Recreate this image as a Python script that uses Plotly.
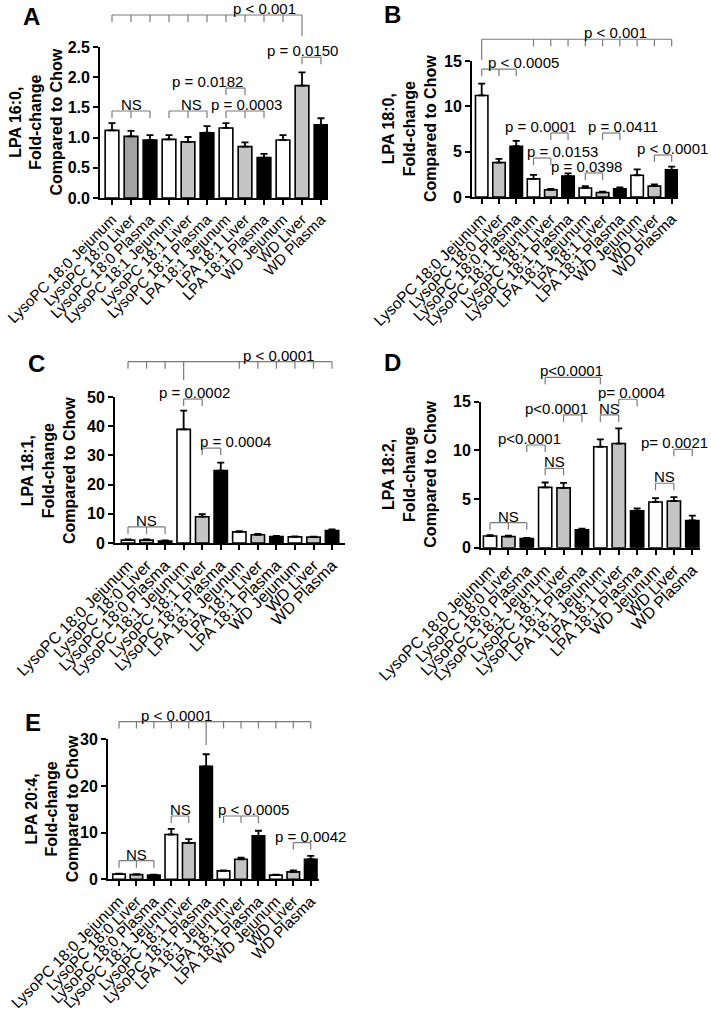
import plotly.graph_objects as go

W, H = 711, 1011
FONT = "Liberation Sans, Arial, sans-serif"

CATS = ["LysoPC 18:0 Jejunum", "LysoPC 18:0 Liver", "LysoPC 18:0 Plasma",
        "LysoPC 18:1 Jejunum", "LysoPC 18:1 Liver", "LysoPC 18:1 Plasma",
        "LPA 18:1 Jejunum", "LPA 18:1 Liver", "LPA 18:1 Plasma",
        "WD Jejunum", "WD Liver", "WD Plasma"]

# fold-change vs chow, mean and SEM
A_MEAN = [1.12, 1.02, 0.96, 0.97, 0.93, 1.08, 1.16, 0.85, 0.67, 0.96, 1.86, 1.21]
A_SEM = [0.12, 0.09, 0.08, 0.07, 0.08, 0.11, 0.08, 0.07, 0.06, 0.08, 0.22, 0.11]
B_MEAN = [11.2, 3.8, 5.6, 2.0, 0.8, 2.3, 1.0, 0.5, 0.9, 2.4, 1.2, 3.0]
B_SEM = [1.3, 0.4, 0.6, 0.45, 0.1, 0.3, 0.2, 0.08, 0.15, 0.65, 0.2, 0.35]
C_MEAN = [1.0, 1.0, 0.7, 38.9, 9.0, 24.8, 3.8, 2.8, 2.2, 2.1, 2.0, 4.3]
C_SEM = [0.2, 0.2, 0.15, 6.4, 0.9, 2.7, 0.3, 0.3, 0.2, 0.2, 0.2, 0.4]
D_MEAN = [1.2, 1.15, 0.95, 6.2, 6.15, 1.85, 10.37, 10.7, 3.8, 4.7, 4.8, 2.8]
D_SEM = [0.08, 0.08, 0.06, 0.5, 0.5, 0.1, 0.75, 1.55, 0.25, 0.4, 0.4, 0.5]
E_MEAN = [1.1, 1.0, 0.9, 9.6, 7.8, 24.2, 1.8, 4.3, 9.3, 0.9, 1.6, 4.3]
E_SEM = [0.1, 0.1, 0.1, 1.2, 0.8, 2.6, 0.1, 0.35, 1.1, 0.1, 0.3, 0.7]

FILLS = ["white", "#c4c4c4", "black"] * 4
A_FILLS = ["white", "#a3a3a3", "black"] + ["white", "#c4c4c4", "black"] * 3

# brackets: (bars under the bracket, height, label, label x in bar units, long-drop bar, drop end)
A_BRACKETS = [
    ([0, 1, 2, 3, 4, 5, 6, 7, 8, 9, 10], 3.03, "p < 0.001", 8.05, 10, 2.68),
    ([0, 1, 2], 1.44, "NS", 1.0, None, None),
    ([3, 4, 5], 1.44, "NS", 4.2, None, None),
    ([6, 7, 8], 1.44, "p = 0.0003", 7.1, None, None),
    ([6, 7], 1.82, "p = 0.0182", 5.0, None, None),
    ([10, 11], 2.33, "p = 0.0150", 10.0, None, None),
]
B_BRACKETS = [
    ([0, 3, 4, 5, 6, 7, 8, 9, 10, 11], 17.4, "p < 0.001", 7.72, 0, 15.1),
    ([0, 1, 2], 14.1, "p < 0.0005", 2.4, None, None),
    ([4, 5], 7.06, "p = 0.0001", 3.43, None, None),
    ([7, 8], 7.06, "p = 0.0411", 8.18, None, None),
    ([3, 4], 4.3, "p = 0.0153", 4.7, None, None),
    ([6, 7], 2.65, "p = 0.0398", 6.04, None, None),
    ([10, 11], 4.63, "p < 0.0001", 11.05, None, None),
]
C_BRACKETS = [
    ([0, 1, 2, 3, 6, 7, 8, 9, 10, 11], 62.1, "p < 0.0001", 8.09, 3, 55.8),
    ([3, 4], 49.3, "p = 0.0002", 3.56, None, None),
    ([4, 5], 32.5, "p = 0.0004", 5.77, None, None),
    ([0, 1, 2], 5.5, "NS", 1.0, None, None),
]
D_BRACKETS = [
    ([3, 6], 17.5, "p<0.0001", 4.44, None, None),
    ([7, 8], 15.25, "p= 0.0004", 7.67, None, None),
    ([6, 7], 13.64, "NS", 6.5, None, None),
    ([4, 5], 13.64, "p<0.0001", 3.64, None, None),
    ([2, 3], 10.55, "p<0.0001", 2.17, None, None),
    ([3, 4], 8.16, "NS", 3.5, None, None),
    ([10, 11], 10.11, "p= 0.0021", 10.05, None, None),
    ([9, 10], 6.62, "NS", 9.5, None, None),
    ([0, 1, 2], 2.57, "NS", 1.0, None, None),
]
E_BRACKETS = [
    (list(range(12)), 33.8, "p < 0.0001", 3.27, 5, 28.8),
    ([0, 1, 2], 4.0, "NS", 1.0, None, None),
    ([3, 4], 13.56, "NS", 3.5, None, None),
    ([6, 7, 8], 13.56, "p < 0.0005", 7.69, None, None),
    ([10, 11], 7.84, "p = 0.0042", 10.96, None, None),
]

Y_TITLES = ["LPA 16:0,", "LPA 18:0,", "LPA 18:1,", "LPA 18:2,", "LPA 20:4,"]
LETTERS = ["A", "B", "C", "D", "E"]

# pixel geometry of each panel: axis left, first bar, bar pitch, axis right,
# y of zero, y of top tick, top tick value, dtick, format, bracket area top,
# title centre x, letter position, category label size
PANELS = [
    dict(left=100, c0=112, s=19.0, right=328, y0=198, yt=47, vt=2.5, dt=0.5,
         fmt=".1f", top=0, tx=36, lx=31, ly=17, fs=15),
    dict(left=472, c0=481.7, s=17.27, right=678, y0=197, yt=61, vt=15, dt=5,
         fmt="d", top=0, tx=410, lx=392, ly=15, fs=15.5),
    dict(left=115, c0=128, s=18.55, right=345, y0=543, yt=397, vt=50, dt=10,
         fmt="d", top=340, tx=48, lx=36, ly=363, fs=16),
    dict(left=481, c0=490, s=18.39, right=700, y0=547.7, yt=401.7, vt=15, dt=5,
         fmt="d", top=340, tx=410, lx=392, ly=362, fs=16),
    dict(left=108, c0=119, s=17.43, right=319, y0=879.3, yt=739.3, vt=30, dt=10,
         fmt="d", top=695, tx=52, lx=33, ly=722, fs=15.5),
]
DATA = [(A_MEAN, A_SEM, A_FILLS, A_BRACKETS), (B_MEAN, B_SEM, FILLS, B_BRACKETS),
        (C_MEAN, C_SEM, FILLS, C_BRACKETS), (D_MEAN, D_SEM, FILLS, D_BRACKETS),
        (E_MEAN, E_SEM, FILLS, E_BRACKETS)]

fig = go.Figure()
ann = []
xs = list(range(len(CATS)))

for i, (p, (mean, sem, fills, brackets)) in enumerate(zip(PANELS, DATA), start=1):
    xa, ya, yb = f"x{i}", f"y{i}", f"y{i + 5}"
    fig.add_trace(go.Bar(
        x=xs, y=mean, width=0.72, xaxis=xa, yaxis=ya,
        marker=dict(color=fills, line=dict(color="black", width=1.6)),
        error_y=dict(type="data", symmetric=False, array=sem,
                     arrayminus=[0] * len(sem), color="black",
                     thickness=1.8, width=3.5),
        showlegend=False, hoverinfo="skip"))

    tl = 7 * p["vt"] / (p["y0"] - p["yt"])  # bracket tick length, data units
    bx, by = [], []
    for bars, h, label, lxpos, long_bar, drop in brackets:
        bx += [bars[0], bars[-1], None]
        by += [h, h, None]
        for b in bars:
            bx += [b, b, None]
            by += [h, drop if b == long_bar else h - tl, None]
        ann.append(dict(x=lxpos, y=h, xref=xa, yref=yb, text=label,
                        showarrow=False, xanchor="center", yanchor="bottom",
                        yshift=-4, font=dict(size=15, color="black", family=FONT)))
    fig.add_trace(go.Scatter(x=bx, y=by, xaxis=xa, yaxis=yb, mode="lines",
                             line=dict(color="#7a7a7a", width=1.2),
                             showlegend=False, hoverinfo="skip"))

    x_dom = [p["left"] / W, p["right"] / W]
    y_dom = [1 - p["y0"] / H, 1 - p["yt"] / H]
    ext = p["vt"] * (p["y0"] - p["top"]) / (p["y0"] - p["yt"])
    fig.update_layout({
        f"xaxis{i}": dict(
            domain=x_dom, anchor=ya, automargin=False,
            range=[(p["left"] - p["c0"]) / p["s"], (p["right"] - p["c0"]) / p["s"]],
            tickmode="array", tickvals=xs, ticktext=CATS, tickangle=-45,
            ticks="outside", ticklen=5, tickwidth=1.5, tickcolor="black",
            showline=True, linecolor="black", linewidth=1.8, showgrid=False,
            zeroline=False, tickfont=dict(size=p["fs"], family=FONT, color="black")),
        f"yaxis{i}": dict(
            domain=y_dom, anchor=xa, range=[0, p["vt"]], dtick=p["dt"],
            automargin=False,
            tick0=0, tickformat=p["fmt"], ticks="outside", ticklen=5,
            tickwidth=1.5, tickcolor="black", showline=True,
            linecolor="black", linewidth=1.8, showgrid=False, zeroline=False,
            tickfont=dict(size=16, family=FONT, color="black", weight="bold")),
        f"yaxis{i + 5}": dict(
            domain=[y_dom[0], 1 - p["top"] / H], anchor=xa, range=[0, ext],
            automargin=False, visible=False, showgrid=False, zeroline=False),
    })

    ann.append(dict(x=p["tx"] / W, y=1 - (p["y0"] + p["yt"]) / 2 / H,
                    xref="paper", yref="paper", textangle=-90, showarrow=False,
                    xanchor="center", yanchor="middle",
                    text=f"{Y_TITLES[i - 1]}<br>Fold-change<br>Compared to Chow",
                    font=dict(size=16, family=FONT, color="black", weight="bold")))
    ann.append(dict(x=p["lx"] / W, y=1 - p["ly"] / H, xref="paper", yref="paper",
                    text=LETTERS[i - 1], showarrow=False,
                    xanchor="center", yanchor="middle",
                    font=dict(size=24, family=FONT, color="black", weight="bold")))

fig.update_layout(width=W, height=H, margin=dict(l=0, r=0, t=0, b=0),
                  plot_bgcolor="rgba(0,0,0,0)", paper_bgcolor="white",
                  annotations=ann, bargap=0.28)
# drop the browser's default 8px body margin so the figure sits at (0, 0)
fig.write_html("out.html", config={"displayModeBar": False},
               post_script="document.body.style.margin='0';")
